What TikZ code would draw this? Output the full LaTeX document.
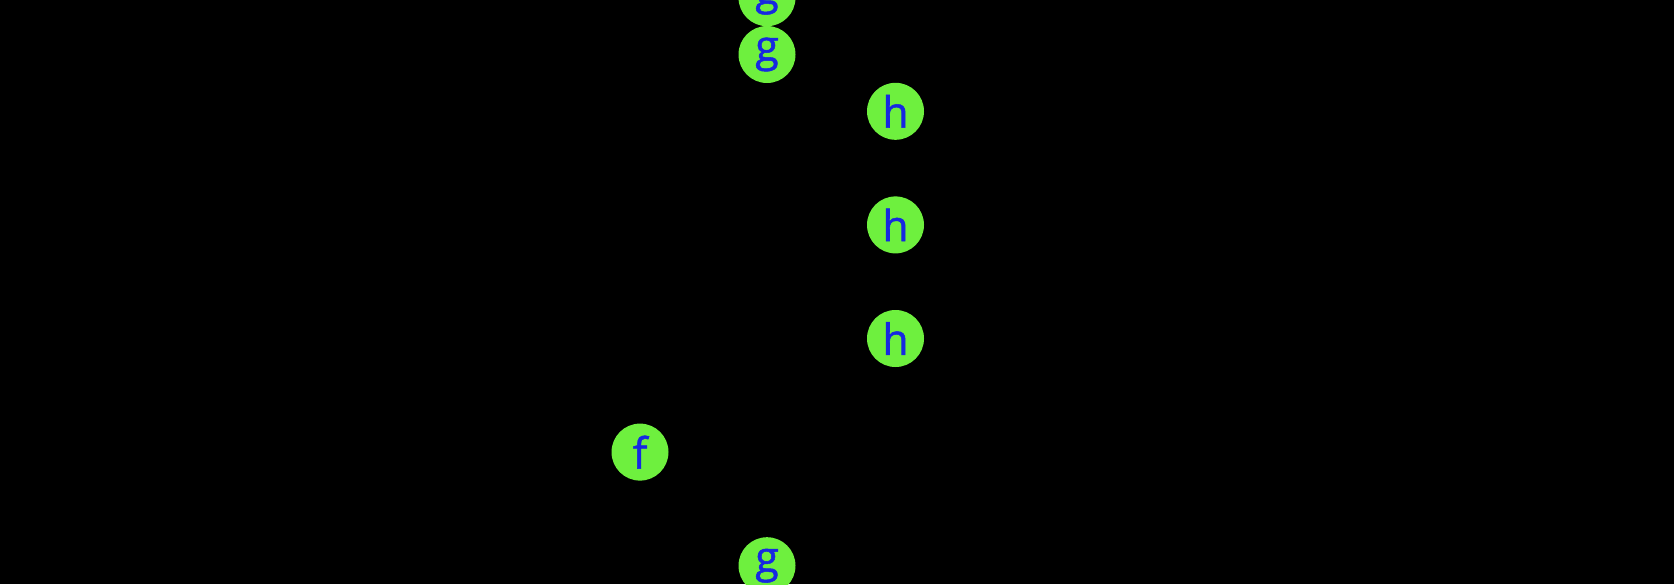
\documentclass[tikz,border=0pt]{standalone}
\usepackage{fontspec}
\setmainfont{Open Sans}
\definecolor{nodegreen}{RGB}{110,240,62}
\definecolor{nodeblue}{RGB}{22,40,225}
\begin{document}
\begin{tikzpicture}[x=1pt,y=-1pt,
  ball/.style={circle,fill=nodegreen,draw=none,minimum size=57pt,inner sep=0pt,
    text=nodeblue,font=\fontsize{43}{43}\selectfont\addfontfeature{FakeBold=1.2}}]
\fill[black] (0,0) rectangle (1674,584);
\useasboundingbox (0,0) rectangle (1674,584);
\node[ball] (g0) at (767,-2.3) {g};
\node[ball] (g1) at (767,54.5) {g};
\node[ball] (h1) at (895.5,111.3) {h};
\node[ball] (h2) at (895.5,224.9) {h};
\node[ball] (h3) at (895.5,338.5) {h};
\node[ball] (f1) at (640,452.1) {f};
\node[ball] (g2) at (767,565.7) {g};
\end{tikzpicture}
\end{document}
